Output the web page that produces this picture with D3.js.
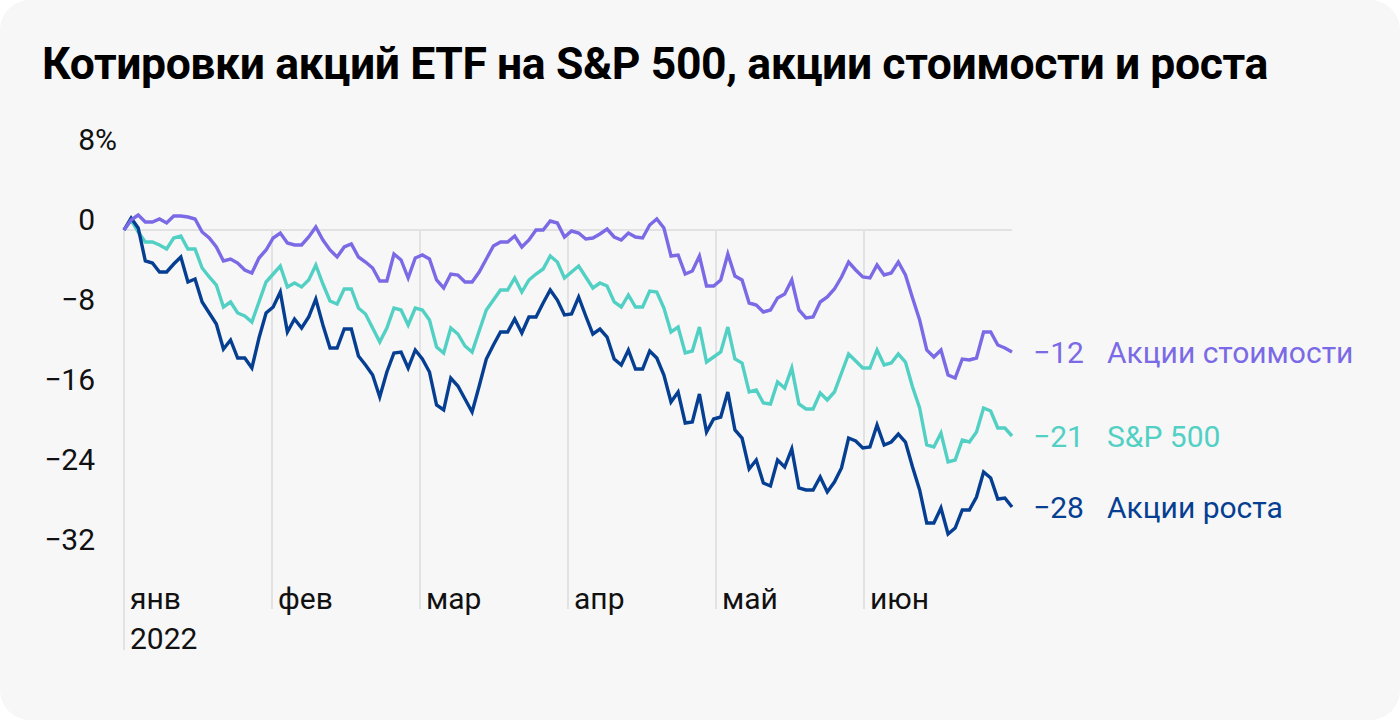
<!DOCTYPE html>
<html>
<head>
<meta charset="utf-8">
<script src="https://cdn.jsdelivr.net/npm/d3@7"></script>
<style>
  html, body { margin: 0; padding: 0; background: #ffffff; }
  svg { display: block; }
</style>
</head>
<body>
<svg id="chart" width="1400" height="720"></svg>
<script>
// ---------- data ----------
const title = "Котировки акций ETF на S&P 500, акции стоимости и роста";
const monthLabels = ["янв", "фев", "мар", "апр", "май", "июн"];
const yearLabel = "2022";
const yTicks = [8, 0, -8, -16, -24, -32];

const seriesNames = ["Акции стоимости", "S&P 500", "Акции роста"];
const seriesColors = ["#7b6ae6", "#52d0c4", "#063f92"];

// cumulative change, %, by trading day
const valueEtf = [
  0, 1.0, 1.5, 0.8, 0.8, 1.1, 0.7, 1.4, 1.4, 1.3, 1.1, -0.2, -0.8, -1.7, -3.1, -2.9, -3.3, -4.0, -4.3, -2.8, -2.0,
  -0.8, -0.3, -1.3, -1.5, -1.5, -0.7, 0.3, -1.0, -2.0, -2.7, -1.7, -1.4, -2.7, -3.2, -3.8, -5.1, -5.1, -2.4, -3.0, -4.8, -2.8,
  -2.5, -2.9, -5.0, -5.8, -4.4, -4.5, -5.2, -5.2, -4.2, -2.9, -1.6, -1.2, -1.2, -0.6, -1.7, -1.0, 0.0, 0.0, 0.9, 0.7, -0.7,
  -0.1, -0.3, -0.9, -0.8, -0.4, 0.1, -0.7, -1.0, -0.3, -0.7, -0.8, 0.5, 1.1, 0.2, -2.6, -2.5, -4.4, -4.1, -2.6, -5.6, -5.6,
  -5.0, -2.4, -4.6, -5.0, -7.3, -7.5, -8.2, -8.0, -6.8, -6.4, -5.0, -8.0, -8.8, -8.7, -7.2, -6.7, -5.9, -4.7, -3.2, -4.0, -4.7,
  -4.8, -3.5, -4.5, -4.3, -3.2, -4.5, -6.8, -9.0, -12.0, -12.7, -12.0, -14.5, -14.8, -12.9, -13.0, -12.8, -10.2, -10.2, -11.5, -11.8, -12.2
];
const sp500 = [
  0, 1.0, -0.2, -1.2, -1.2, -1.5, -1.9, -0.8, -0.6, -1.9, -1.9, -3.8, -4.7, -5.5, -7.7, -7.2, -8.3, -8.6, -9.2, -7.2, -5.2,
  -4.4, -3.6, -5.7, -5.3, -5.7, -5.0, -3.5, -5.4, -7.1, -7.4, -5.9, -5.9, -7.8, -8.4, -9.8, -11.2, -9.8, -7.8, -8.0, -9.5, -7.8,
  -8.0, -9.0, -11.7, -12.3, -9.8, -10.4, -11.6, -12.2, -10.1, -8.0, -7.0, -6.0, -6.0, -4.8, -6.2, -5.0, -4.4, -3.9, -2.6, -3.2, -4.8,
  -4.2, -3.6, -4.7, -5.8, -5.3, -5.6, -7.2, -7.7, -6.5, -7.7, -7.7, -6.1, -6.2, -7.8, -10.2, -9.7, -12.3, -12.1, -9.7, -13.2, -12.7,
  -12.2, -9.7, -12.9, -13.3, -16.2, -16.0, -17.3, -17.4, -15.2, -15.8, -13.8, -17.4, -17.9, -17.9, -16.3, -17.0, -16.2, -14.3, -12.4, -13.1, -13.8,
  -13.8, -12.0, -13.5, -13.3, -12.4, -13.2, -15.7, -17.8, -21.5, -21.7, -20.3, -23.2, -23.0, -21.0, -21.2, -20.2, -17.8, -18.1, -19.8, -19.8, -20.6
];
const growthEtf = [
  0, 1.2, 0.2, -3.1, -3.3, -4.2, -4.2, -3.4, -2.7, -5.2, -4.9, -7.2, -8.3, -9.4, -11.9, -11.0, -12.8, -12.8, -13.8, -10.8, -8.3,
  -7.7, -6.2, -10.2, -8.9, -9.8, -8.7, -6.9, -9.5, -11.8, -11.8, -9.9, -9.9, -12.6, -13.5, -14.5, -16.7, -14.2, -12.3, -12.2, -13.8, -12.0,
  -12.9, -14.2, -17.5, -18.0, -14.8, -15.6, -16.9, -18.2, -15.6, -12.9, -11.5, -10.2, -10.2, -8.9, -10.3, -8.7, -8.7, -7.3, -6.0, -7.0, -8.5,
  -8.4, -6.7, -8.6, -10.4, -9.9, -10.7, -12.9, -13.5, -12.0, -13.9, -13.9, -12.1, -12.8, -14.5, -17.2, -16.2, -19.3, -19.2, -16.4, -20.2, -18.9,
  -18.7, -16.2, -20.0, -20.8, -23.9, -23.0, -25.3, -25.6, -23.0, -23.7, -21.9, -25.8, -26.0, -26.0, -24.7, -26.2, -25.2, -23.8, -20.8, -21.1, -21.8,
  -21.7, -19.5, -21.5, -21.2, -20.4, -21.2, -23.7, -26.0, -29.3, -29.3, -27.8, -30.4, -29.8, -28.0, -28.0, -26.7, -24.2, -24.8, -26.9, -26.8, -27.7
];

// ---------- layout ----------
const svg = d3.select("#chart");
const W = 1400, H = 720;
const plotLeft = 124, plotRight = 1012, plotTop = 150, plotBottom = 550;
const font = "Roboto, 'Noto Sans', sans-serif";
const fs = 30;

svg.append("rect").attr("x", 0).attr("y", 0).attr("width", W).attr("height", H)
  .attr("rx", 30).attr("ry", 30).attr("fill", "#f7f7f7");

svg.append("text").attr("x", 42).attr("y", 79)
  .attr("font-family", font).attr("font-weight", 700).attr("font-size", 44.5)
  .attr("letter-spacing", -0.4)
  .attr("fill", "#000")
  .text(title);

const allSeries = [valueEtf, sp500, growthEtf];
const n = valueEtf.length;

const x = d3.scaleLinear().domain([0, n - 1]).range([plotLeft, plotRight]);
const xm = d3.scaleLinear().domain([0, monthLabels.length]).range([plotLeft, plotRight]);
const y = d3.scaleLinear().domain([-32, 8]).range([plotBottom, plotTop]);

// vertical month gridlines
const g = svg.append("g");
monthLabels.forEach((m, i) => {
  g.append("line")
    .attr("x1", xm(i)).attr("x2", xm(i))
    .attr("y1", y(0)).attr("y2", i === 0 ? 650 : 609)
    .attr("stroke", "#e2e2e2").attr("stroke-width", 2);
  g.append("text")
    .attr("x", xm(i) + 6).attr("y", 609)
    .attr("font-family", font).attr("font-size", fs).attr("fill", "#111")
    .text(m);
});
g.append("text").attr("x", xm(0) + 6).attr("y", 649)
  .attr("font-family", font).attr("font-size", fs).attr("fill", "#111")
  .text(yearLabel);

// zero line
g.append("line").attr("x1", plotLeft).attr("x2", plotRight)
  .attr("y1", y(0)).attr("y2", y(0))
  .attr("stroke", "#e2e2e2").attr("stroke-width", 2);

// y labels
yTicks.forEach(t => {
  g.append("text").attr("x", 95).attr("y", y(t))
    .attr("text-anchor", "end")
    .attr("font-family", font).attr("font-size", fs).attr("fill", "#111")
    .text(t < 0 ? "\u2212" + Math.abs(t) : String(t));
  if (t === 8) {
    g.append("text").attr("x", 95).attr("y", y(t))
      .attr("font-family", font).attr("font-size", fs).attr("fill", "#111")
      .text("%");
  }
});

// lines
const line = d3.line().x((d, i) => x(i)).y(d => y(d)).curve(d3.curveLinear);
const drawOrder = [1, 2, 0];
drawOrder.forEach(si => {
  svg.append("path").datum(allSeries[si])
    .attr("d", line)
    .attr("fill", "none")
    .attr("stroke", seriesColors[si])
    .attr("stroke-width", 3.4)
    .attr("stroke-linejoin", "miter")
    .attr("stroke-linecap", "butt");
});

// end labels
allSeries.forEach((s, si) => {
  const last = s[s.length - 1];
  const ly = y(last) + 11;
  svg.append("text").attr("x", 1033).attr("y", ly)
    .attr("font-family", font).attr("font-size", fs).attr("fill", seriesColors[si])
    .text("\u2212" + Math.round(Math.abs(last)));
  svg.append("text").attr("x", 1107).attr("y", ly)
    .attr("font-family", font).attr("font-size", fs).attr("fill", seriesColors[si])
    .text(seriesNames[si]);
});
</script>
</body>
</html>
